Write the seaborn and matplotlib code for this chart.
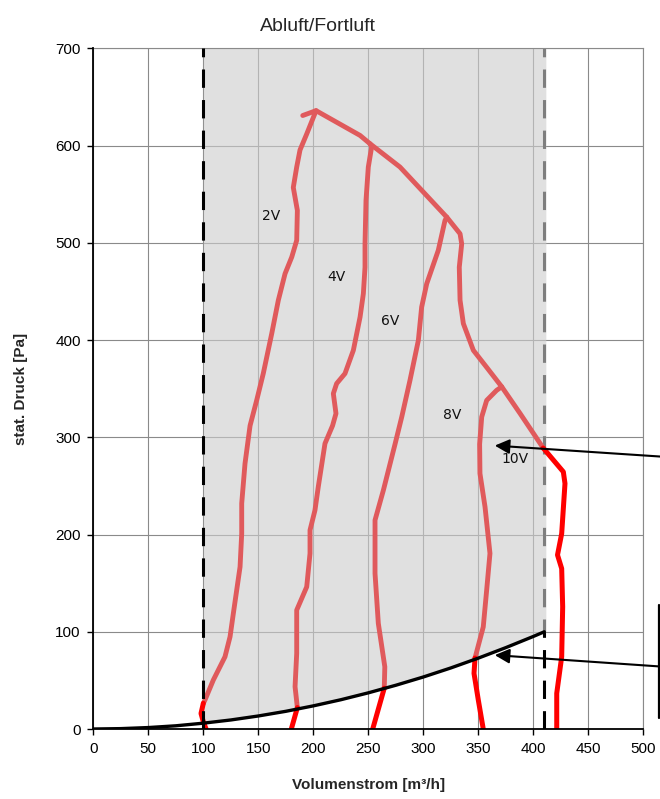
import matplotlib
matplotlib.use("Agg")
import matplotlib.pyplot as plt
import seaborn as sns
import pandas as pd
import numpy as np

# ---- data ----
x_ticks = list(range(0, 501, 50))
y_ticks = list(range(0, 701, 100))

# system curve (black)
sys_x = [0, 25, 50, 75, 100, 125, 150, 175, 200, 225, 250, 275, 300, 325, 350, 375, 400, 410]
sys_y = [0, 0.4, 1.5, 3.3, 6.0, 9.3, 13.4, 18.2, 23.8, 30.1, 37.2, 45.0, 53.5, 62.8, 72.9, 83.7, 95.2, 100]

# operating limits
vmin_x = 100
vmax_x = 410

# envelope (max curve)
env_x = [190.4, 202.5, 242.5, 251.5, 278.8, 321.3, 333.4, 334.9, 332.7, 333.4, 336.4, 345.5, 357.6, 371.3, 388, 409]
env_y = [631, 636, 610.5, 602, 578, 526.5, 509.4, 499, 475, 441, 417, 389.5, 372, 352, 324.5, 289]
v10_thick_x = [409, 427.3, 428.8, 425.8, 422, 425.8, 426.7, 425.8, 421.3, 421.3]
v10_thick_y = [289, 264.5, 252.5, 201, 179, 165, 125.7, 74.3, 36.7, 0]

v2_x = [202.5, 194, 187.9, 184.9, 181.8, 185.5, 184.9, 180.4, 174.3, 168.2, 162.2, 154.5, 148.5, 142.5,
        137.9, 134.9, 134.9, 133.4, 127.3, 124.3, 119.7, 109.1, 101.5, 100]
v2_y = [636, 612, 595.5, 578, 557, 533.4, 502.6, 485.4, 468.3, 441, 406.7, 365.6, 338, 312,
        273, 232, 201, 166.8, 118.9, 94.9, 74.3, 50.4, 29.8, 26.4]
v2_thick_x = [100, 97.9, 100, 102.5]
v2_thick_y = [26.4, 16, 7.5, 0]

v4_x = [251.5, 253, 250, 247.9, 247, 247, 245.5, 242.5, 236.4, 228.8, 221.2, 218.2, 220.6, 217.5,
        210.6, 204.5, 201.5, 197, 197, 194, 184.9, 184.9, 183.4, 185.5]
v4_y = [602, 598.5, 578, 543.7, 499, 475, 447.8, 423.7, 389.5, 365.6, 355.3, 345, 324.5, 312,
        293.6, 249, 225, 204.5, 180.6, 146.2, 122.3, 77.8, 43.5, 22]
v4_thick_x = [185.5, 180]
v4_thick_y = [22, 0]

v6_x = [321.3, 319.7, 313.6, 303.1, 298.5, 295.5, 287.9, 280.4, 274.3, 263.7, 256.1, 256.1, 259.1, 265, 264.5]
v6_y = [526.5, 523, 492.3, 458, 434, 399.8, 358.7, 321, 293, 245.6, 214.8, 160, 108.6, 64, 42]
v6_thick_x = [264.5, 254]
v6_thick_y = [42, 0]

v8_x = [371.3, 366.7, 357.6, 353.1, 351.2, 351.5, 356.1, 360.6, 357.6, 354.5, 347]
v8_y = [352, 348.4, 338, 321, 293, 262.8, 228.5, 180.6, 142.9, 105, 73]
v8_thick_x = [347, 346.1, 350, 354.5]
v8_thick_y = [73, 57.2, 29.8, 0]

curve_labels = ["2V", "4V", "6V", "8V", "10V"]
label_x = [161.5, 221.3, 270.3, 325.8, 383.4]
label_y = [528, 465, 420, 322.7, 278]

arrow_tips = [(365, 291.5), (365, 76)]
arrow_tails = [(532, 279), (532, 63)]
bracket_x = [514.6, 514.6]
bracket_y = [11.3, 127.4]

# ---- figure ----
sns.set_theme(style="white")
plt.rcParams['font.family'] = ['Liberation Sans', 'DejaVu Sans']

fig = plt.figure(figsize=(6.6, 7.99), dpi=100)
ax = fig.add_axes([0.1414, 0.0876, 0.8333, 0.8518])

ax.set_xlim(0, 500)
ax.set_ylim(0, 700)
ax.set_xticks(x_ticks)
ax.set_yticks(y_ticks)
ax.grid(True, color="#8a8a8a", lw=0.8, zorder=0.5)
ax.set_axisbelow(True)

# dashed limit lines
ax.plot([vmax_x, vmax_x], [0, 700], color="black", lw=2.2, dashes=(6, 4), zorder=1)
ax.plot([vmin_x, vmin_x], [0, 700], color="black", lw=2.2, dashes=(6, 4), zorder=4)

# operating area overlay
sx = np.array(sys_x, dtype=float)
sy = np.array(sys_y, dtype=float)
m = (sx >= vmin_x) & (sx <= vmax_x)
ox = np.append(sx[m], vmax_x + 1.4)
oy = np.append(sy[m], sy[m][-1])
ax.fill_between(ox, oy, 700, color="#CDCDCD", alpha=0.62, lw=0, zorder=2)

thin_col = "#E05A5C"
thick_col = "#FF0000"

def draw(xs, ys, col, lw, z):
    df = pd.DataFrame({"x": xs, "y": ys})
    sns.lineplot(data=df, x="x", y="y", sort=False, estimator=None, ax=ax,
                 color=col, lw=lw, zorder=z, solid_capstyle="round", solid_joinstyle="round")

for xs, ys in [(env_x, env_y), (v2_x, v2_y), (v4_x, v4_y), (v6_x, v6_y), (v8_x, v8_y)]:
    draw(xs, ys, thin_col, 3.5, 3)
for xs, ys in [(v10_thick_x, v10_thick_y), (v2_thick_x, v2_thick_y), (v4_thick_x, v4_thick_y),
               (v6_thick_x, v6_thick_y), (v8_thick_x, v8_thick_y)]:
    draw(xs, ys, thick_col, 3.6, 3)

# system curve
draw(sys_x, sys_y, "black", 2.4, 5)

for t, lx, ly in zip(curve_labels, label_x, label_y):
    ax.text(lx, ly, t, fontsize=10, ha="center", va="center", color="#111111",
            family=["DejaVu Sans"], zorder=6)

for tip, tail in zip(arrow_tips, arrow_tails):
    ax.annotate("", xy=tip, xytext=tail, annotation_clip=False,
                arrowprops=dict(arrowstyle="-|>", color="black", lw=1.5,
                                mutation_scale=22, shrinkA=0, shrinkB=0), zorder=7)
ax.plot(bracket_x, bracket_y, color="black", lw=1.6, clip_on=False, zorder=7)

# spines / ticks
for s in ["left", "bottom"]:
    ax.spines[s].set_color("black")
    ax.spines[s].set_linewidth(1.3)
    ax.spines[s].set_zorder(6)
for s in ["top", "right"]:
    ax.spines[s].set_color("#8a8a8a")
    ax.spines[s].set_linewidth(0.8)
ax.tick_params(axis="both", which="major", direction="out", length=4, width=1,
               color="black", labelsize=11, labelcolor="black", bottom=True, left=True, pad=5)

ax.set_xlabel("Volumenstrom [m³/h]", fontsize=11, fontweight="bold", labelpad=16)
ax.set_ylabel("stat. Druck [Pa]", fontsize=11, fontweight="bold", labelpad=20)
fig.text(0.482, 0.967, "Abluft/Fortluft", fontsize=14, ha="center", va="center")

fig.savefig("out.png", dpi=100)
